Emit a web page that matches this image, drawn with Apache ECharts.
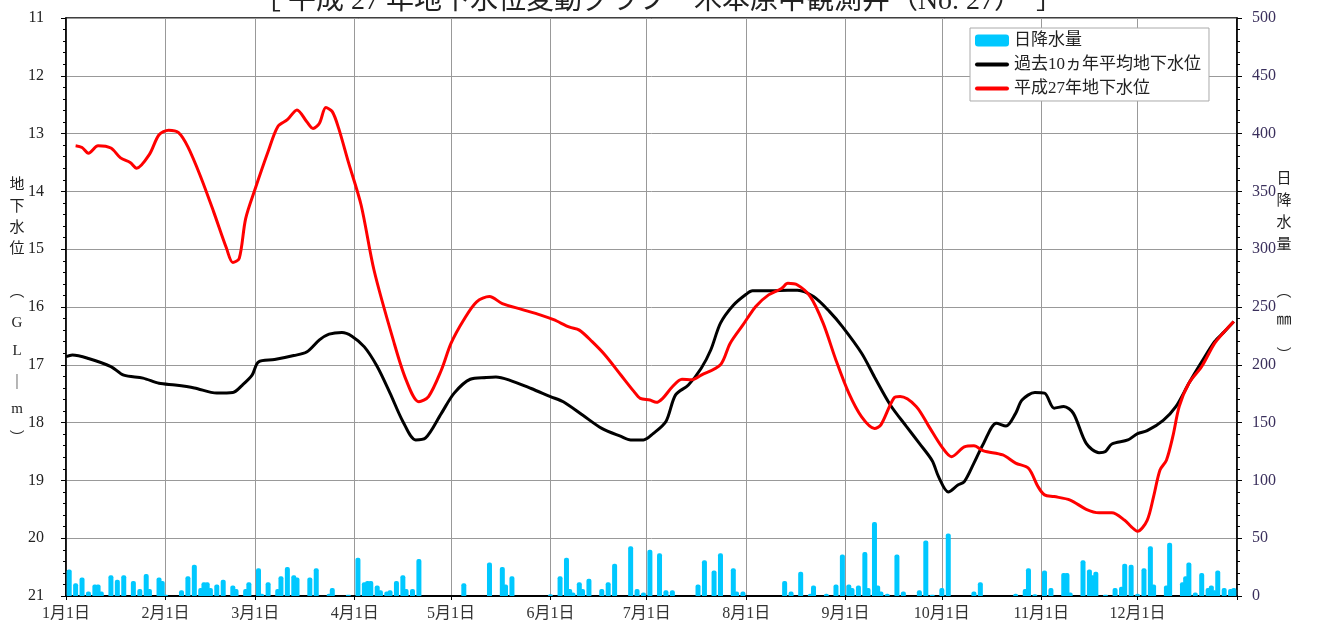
<!DOCTYPE html>
<html lang="ja">
<head>
	<meta charset="UTF-8">
	<title>平成27年地下水位変動グラフ</title>
	<script src="https://cdn.jsdelivr.net/npm/echarts@6/dist/echarts.min.js"></script>
	<style>
		html, body { margin: 0; padding: 0; background: #fff; }
	</style>
</head>
<body>
	<div id="chart" style="width: 1317px; height: 628px;"></div>
	<script type="text/javascript">
		// x = 1月1日からの通算日 (0..365)
		const monthStarts = [0, 31, 59, 90, 120, 151, 181, 212, 243, 273, 304, 334, 365];
		const monthLabels = ['1月1日', '2月1日', '3月1日', '4月1日', '5月1日', '6月1日',
			'7月1日', '8月1日', '9月1日', '10月1日', '11月1日', '12月1日'];

		// 平成27年地下水位 (GL-m)
		const h27Day = [3, 5, 7, 10, 14, 17, 20, 22, 26, 29, 32, 35, 38, 42, 46, 50, 52, 54, 56, 59,
			63, 66, 69, 72, 75, 77, 79, 81, 83, 85, 88, 92, 96, 102, 106, 110, 113, 117, 120, 124,
			128, 132, 136, 142, 148, 152, 157, 160, 164, 168, 173, 177, 179, 182, 184, 186, 189, 192, 195, 198,
			204, 207, 211, 215, 219, 223, 225, 228, 232, 236, 240, 244, 248, 252, 254, 258, 260, 265, 269, 273,
			276, 280, 283, 286, 292, 296, 300, 303, 305, 308, 313, 318, 322, 326, 330, 332, 334, 337, 339, 341,
			343, 345, 347, 350, 354, 358, 361, 364];
		const h27Level = [13.21, 13.24, 13.34, 13.21, 13.25, 13.42, 13.50, 13.60, 13.36, 13.02, 12.94, 12.98, 13.23, 13.75, 14.35, 14.98, 15.23, 15.16, 14.47, 13.95,
			13.31, 12.88, 12.76, 12.59, 12.79, 12.91, 12.82, 12.55, 12.62, 12.91, 13.49, 14.24, 15.36, 16.57, 17.26, 17.64, 17.55, 17.09, 16.63, 16.22,
			15.91, 15.82, 15.94, 16.04, 16.14, 16.22, 16.35, 16.40, 16.60, 16.83, 17.18, 17.46, 17.58, 17.61, 17.65, 17.58, 17.38, 17.25, 17.26, 17.18,
			17.00, 16.63, 16.31, 15.99, 15.79, 15.68, 15.59, 15.62, 15.82, 16.28, 16.92, 17.49, 17.90, 18.10, 18.04, 17.58, 17.55, 17.72, 18.07, 18.42,
			18.59, 18.42, 18.40, 18.49, 18.56, 18.70, 18.79, 19.11, 19.25, 19.28, 19.34, 19.50, 19.56, 19.56, 19.69, 19.80, 19.88, 19.69, 19.28, 18.82,
			18.65, 18.24, 17.72, 17.32, 17.03, 16.63, 16.43, 16.25];

		// 過去10ヵ年平均地下水位 (GL-m)
		const avgDay = [0, 2, 7, 14, 18, 24, 29, 34, 40, 47, 52, 55, 58, 60, 65, 71, 75, 79, 82, 86,
			89, 93, 97, 101, 105, 109, 112, 117, 121, 126, 131, 134, 138, 145, 151, 155, 161, 167, 173, 176,
			180, 183, 187, 190, 194, 198, 201, 204, 208, 212, 214, 220, 225, 228, 233, 238, 242, 248, 252, 257,
			262, 266, 270, 272, 275, 278, 280, 283, 286, 290, 293, 296, 298, 302, 305, 308, 311, 314, 318, 322,
			324, 326, 331, 334, 337, 342, 346, 350, 354, 358, 361, 364];
		const avgLevel = [16.86, 16.83, 16.89, 17.03, 17.18, 17.23, 17.32, 17.35, 17.40, 17.49, 17.48, 17.35, 17.18, 16.95, 16.91, 16.84, 16.78, 16.57, 16.47, 16.44,
			16.50, 16.69, 17.03, 17.49, 17.98, 18.30, 18.27, 17.84, 17.49, 17.25, 17.22, 17.21, 17.26, 17.41, 17.55, 17.64, 17.87, 18.10, 18.24, 18.30,
			18.30, 18.19, 17.98, 17.52, 17.35, 17.06, 16.74, 16.28, 15.97, 15.78, 15.72, 15.72, 15.71, 15.71, 15.82, 16.08, 16.34, 16.80, 17.21, 17.70,
			18.07, 18.36, 18.66, 18.94, 19.20, 19.08, 19.02, 18.70, 18.36, 18.01, 18.06, 17.84, 17.61, 17.48, 17.49, 17.75, 17.72, 17.84, 18.36, 18.52,
			18.50, 18.37, 18.30, 18.19, 18.14, 17.96, 17.72, 17.32, 16.95, 16.60, 16.43, 16.25];

		// 日降水量 (mm)
		const rainDay = [1, 3, 5, 7, 9, 10, 11, 14, 16, 18, 21, 23, 25, 26, 29, 30, 31, 36, 38, 40,
			42, 43, 44, 45, 47, 49, 52, 53, 56, 57, 60, 61, 63, 66, 67, 69, 71, 72, 76, 78,
			82, 83, 88, 91, 93, 94, 95, 97, 98, 100, 101, 103, 105, 106, 108, 110, 124, 132, 136, 137,
			139, 151, 154, 156, 157, 158, 160, 161, 163, 167, 169, 171, 176, 178, 180, 182, 185, 187, 189, 197,
			199, 202, 204, 208, 209, 211, 224, 226, 229, 232, 233, 237, 240, 242, 244, 245, 247, 249, 250, 252,
			253, 254, 256, 259, 261, 266, 268, 270, 273, 275, 283, 285, 296, 299, 300, 302, 305, 307, 311, 312,
			313, 317, 319, 320, 321, 324, 327, 329, 330, 332, 334, 336, 338, 339, 343, 344, 348, 349, 350, 352,
			354, 356, 357, 358, 359, 361, 363, 364];
		const rainMm = [23, 11, 16, 4, 10, 10, 4, 18, 14, 18, 13, 6, 19, 6, 16, 13, 1, 5, 17, 27,
			7, 12, 12, 7, 10, 14, 9, 6, 6, 12, 24, 2, 12, 6, 17, 25, 18, 16, 16, 24,
			2, 7, 1, 33, 12, 13, 13, 9, 5, 4, 5, 13, 18, 6, 6, 32, 11, 29, 25, 10,
			17, 1.5, 17, 33, 6, 3, 12, 6, 15, 6, 12, 28, 43, 6, 3, 40, 37, 5, 5, 10,
			31, 22, 37, 24, 4, 4, 13, 4, 21, 2, 9, 2, 10, 36, 10, 7, 9, 38, 7, 64,
			9, 4, 2, 36, 4, 5, 48, 1, 7, 54, 4, 12, 2, 6, 24, 1.5, 22, 7, 20, 20,
			3, 31, 23, 18, 21, 1, 7, 8, 28, 27, 2, 24, 43, 10, 9, 46, 12, 17, 29, 3,
			20, 7, 9, 5, 22, 7, 6, 7];

		const leftName = ['地', '下', '水', '位', '︵', 'G', 'L', '｜', 'm', '︶'];
		const rightName = ['日', '降', '水', '量', '︵', '㎜', '︶'];

		const numFont = '"Liberation Serif", "Noto Sans CJK JP", serif';
		const jpFont = '"Noto Sans CJK JP", sans-serif';

		const zip = (xs, ys) => xs.map((x, i) => [x, ys[i]]);

		// 軸名 (縦書き)
		const leftY = [183, 205, 226, 247, 290, 323, 351, 381, 409, 437];
		const rightY = [177, 199, 221, 243, 290, 318, 354];
		const nameText = (chars, ys, x) => chars.map((c, i) => ({
			type: 'text',
			x: x,
			y: ys[i],
			style: {
				text: c,
				font: '15px ' + (/[A-Za-z]/.test(c) ? numFont : jpFont),
				fill: '#222',
				align: 'center',
				verticalAlign: 'middle'
			}
		}));

		// 凡例の線アイコン
		const lineIcon = 'path://M2,0H32A2,2 0 0 1 32,4H2A2,2 0 0 1 2,0Z';

		const chart = echarts.init(document.getElementById('chart'));
		chart.setOption({
			backgroundColor: '#fff',
			animation: false,
			title: {
				text: '［ 平成 27 年地下水位変動グラフ　木本原中観測井（No. 27）　］',
				left: 'center',
				top: -17,
				textStyle: { fontFamily: numFont, fontSize: 28, fontWeight: 'normal', color: '#222' }
			},
			graphic: nameText(leftName, leftY, 17).concat(nameText(rightName, rightY, 1284)),
			legend: {
				orient: 'vertical',
				left: 970,
				top: 28,
				padding: [4, 8, 4, 5],
				itemGap: 7,
				itemWidth: 34,
				itemHeight: 12,
				symbolKeepAspect: true,
				backgroundColor: '#fff',
				borderColor: '#aaa',
				borderWidth: 1,
				borderRadius: 0,
				textStyle: { fontFamily: numFont, fontSize: 17, color: '#222' },
				data: [
					{ name: '日降水量', icon: 'roundRect' },
					{ name: '過去10ヵ年平均地下水位', icon: lineIcon },
					{ name: '平成27年地下水位', icon: lineIcon }
				]
			},
			grid: {
				left: 66,
				right: 80,
				top: 18,
				bottom: 32,
				show: true,
				borderColor: '#000',
				borderWidth: 1.5
			},
			xAxis: {
				type: 'value',
				min: 0,
				max: 365,
				axisLine: { onZero: false, lineStyle: { color: '#000', width: 2 } },
				axisTick: { customValues: monthStarts, length: 4, lineStyle: { color: '#000' } },
				axisLabel: {
					customValues: monthStarts.slice(0, 12),
					formatter: v => monthLabels[monthStarts.indexOf(v)],
					margin: 10,
					fontFamily: numFont,
					fontSize: 16,
					color: '#333'
				},
				splitLine: { show: true, lineStyle: { color: '#999', width: 1 } }
			},
			yAxis: [{
				type: 'value',
				position: 'left',
				inverse: true,
				min: 11,
				max: 21,
				interval: 1,
				axisLine: { show: true, lineStyle: { color: '#000', width: 1.5 } },
				axisTick: { show: true, length: 5, lineStyle: { color: '#000' } },
				minorTick: { show: true, splitNumber: 5, length: 3, lineStyle: { color: '#000' } },
				axisLabel: { margin: 22, fontFamily: numFont, fontSize: 16, color: '#222' },
				splitLine: { show: true, lineStyle: { color: '#999', width: 1 } }
			}, {
				type: 'value',
				position: 'right',
				min: 0,
				max: 500,
				interval: 50,
				axisLine: { show: true, lineStyle: { color: '#000', width: 1.5 } },
				axisTick: { show: true, length: 5, lineStyle: { color: '#000' } },
				minorTick: { show: true, splitNumber: 5, length: 3, lineStyle: { color: '#000' } },
				axisLabel: { margin: 15, fontFamily: numFont, fontSize: 16, color: '#3a2f5c' },
				splitLine: { show: false }
			}],
			series: [{
				name: '日降水量',
				type: 'bar',
				yAxisIndex: 1,
				barWidth: 5,
				itemStyle: { color: '#00c8ff', borderRadius: [2, 2, 0, 0] },
				data: zip(rainDay, rainMm),
				z: 1
			}, {
				name: '過去10ヵ年平均地下水位',
				type: 'line',
				yAxisIndex: 0,
				smooth: 0.3,
				symbol: 'none',
				lineStyle: { color: '#000', width: 3 },
				itemStyle: { color: '#000' },
				data: zip(avgDay, avgLevel),
				z: 3
			}, {
				name: '平成27年地下水位',
				type: 'line',
				yAxisIndex: 0,
				smooth: 0.3,
				symbol: 'none',
				lineStyle: { color: '#ff0000', width: 3 },
				itemStyle: { color: '#ff0000' },
				data: zip(h27Day, h27Level),
				z: 4
			}]
		});
	</script>
</body>
</html>
